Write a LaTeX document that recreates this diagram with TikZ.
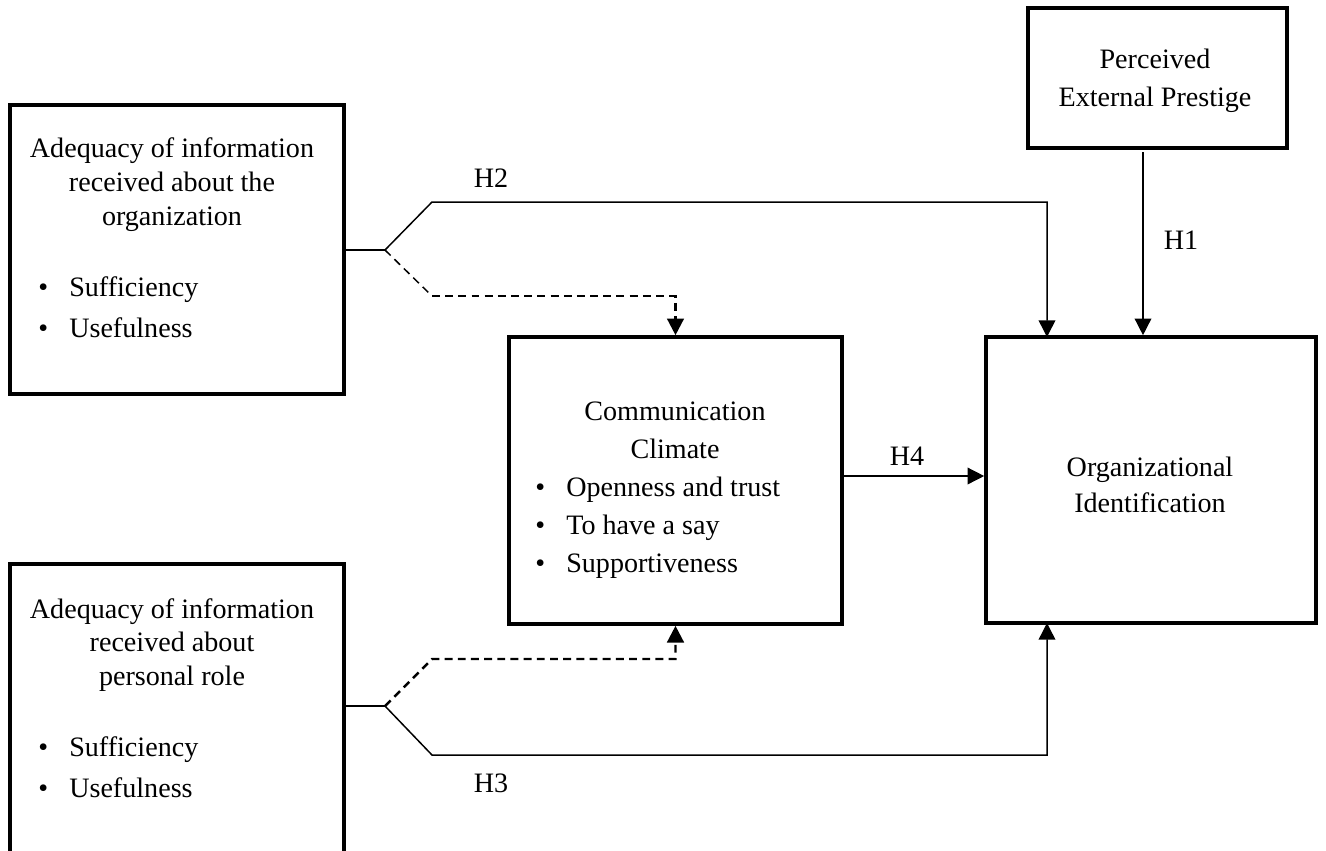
\documentclass[tikz,border=0pt]{standalone}
\usepackage{fontspec}
\setmainfont{Liberation Serif}
\usepackage{tikz}
\usetikzlibrary{positioning}
\usetikzlibrary{arrows.meta}
\newcommand{\itm}{\textbullet\hspace{12pt}}

\tikzset{
  varbox/.style={draw, line width=2.1pt, inner sep=0pt},
  txt/.style={inner sep=0pt, align=center, font=\fontsize{16}{19.3}\selectfont},
  items/.style={inner sep=0pt, align=left, anchor=west},
  link/.style={line width=0.85pt, -{Triangle[length=9.5pt,width=9.5pt]}},
  dashlink/.style={line width=1.4pt, dash pattern=on 4.5pt off 3pt, -{Triangle[length=9.5pt,width=9.5pt]}},
  dashthin/.style={line width=0.85pt, dash pattern=on 4.5pt off 3pt}
}

\begin{document}
\begin{tikzpicture}[x=0.02cm, y=-0.02cm]
    \useasboundingbox (0,0) rectangle (1326,850);

    % boxes
    \node [varbox, minimum width=6.68cm, minimum height=5.78cm] (adqOrg) at (177,249.5) {};
    \node [varbox, minimum width=6.68cm, minimum height=5.92cm] (adqRole) at (177,712) {};
    \node [varbox, minimum width=6.66cm, minimum height=5.74cm] (climate) at (675.5,480.5) {};
    \node [varbox, minimum width=6.6cm, minimum height=5.72cm] (orgId) at (1151,480) {};
    \node [varbox, minimum width=5.18cm, minimum height=2.8cm] (prestige) at (1157.5,78) {};

    % texts
    \node [txt] (adqOrgT) at (172,185) {Adequacy of information\\received about the\\organization};
    \node [txt, items, font=\fontsize{16}{23.3}\selectfont] (adqOrgL) at (38,307) {\itm Sufficiency\\\itm Usefulness};
    \node [txt] (adqRoleT) at (172,645) {Adequacy of information\\received about\\personal role};
    \node [txt, items, font=\fontsize{16}{23.3}\selectfont] (adqRoleL) at (38,767.5) {\itm Sufficiency\\\itm Usefulness};
    \node [txt, font=\fontsize{16}{21.6}\selectfont] (climateT) at (675,430) {Communication\\Climate};
    \node [txt, items, font=\fontsize{16}{21.6}\selectfont] (climateL) at (535,528) {\itm Openness and trust\\\itm To have a say\\\itm Supportiveness};
    \node [txt, font=\fontsize{16}{20.5}\selectfont] (orgIdT) at (1150,485) {Organizational\\Identification};
    \node [txt, font=\fontsize{16}{21.6}\selectfont] (prestigeT) at (1155,81) {Perceived\\External Prestige};

    % hypothesis labels
    \node [txt] (h2) at (491,178) {H2};
    \node [txt] (h3) at (491,783) {H3};
    \node [txt] (h1) at (1181,240) {H1};
    \node [txt] (h4) at (907,456) {H4};

    % joints
    \coordinate (forkOrg) at (385,250);
    \coordinate (forkRole) at (385,706);
    \coordinate (dashOrg) at (432,296);
    \coordinate (dashRole) at (432,659);
    \coordinate (h2in) at (1047,337);
    \coordinate (h3in) at (1047,623);
    \coordinate (h1top) at (1143,152);

    % paths
    \draw [line width=0.85pt] (forkOrg -| adqOrg.east) -- (forkOrg);
    \draw [link] (forkOrg) -- (432,202) -| (h2in);
    \draw [dashthin] (forkOrg) -- (dashOrg);
    \draw [dashlink] (dashOrg) -| (climate.north);

    \draw [line width=0.85pt] (forkRole -| adqRole.east) -- (forkRole);
    \draw [link] (forkRole) -- (432,755) -| (h3in);
    \draw [dashlink] (forkRole) -- (dashRole) -| (climate.south);

    \draw [link] (h1top) -- (h1top |- orgId.north);
    \draw [link] (climate.east |- 0,476) -- (orgId.west |- 0,476);
\end{tikzpicture}
\end{document}
